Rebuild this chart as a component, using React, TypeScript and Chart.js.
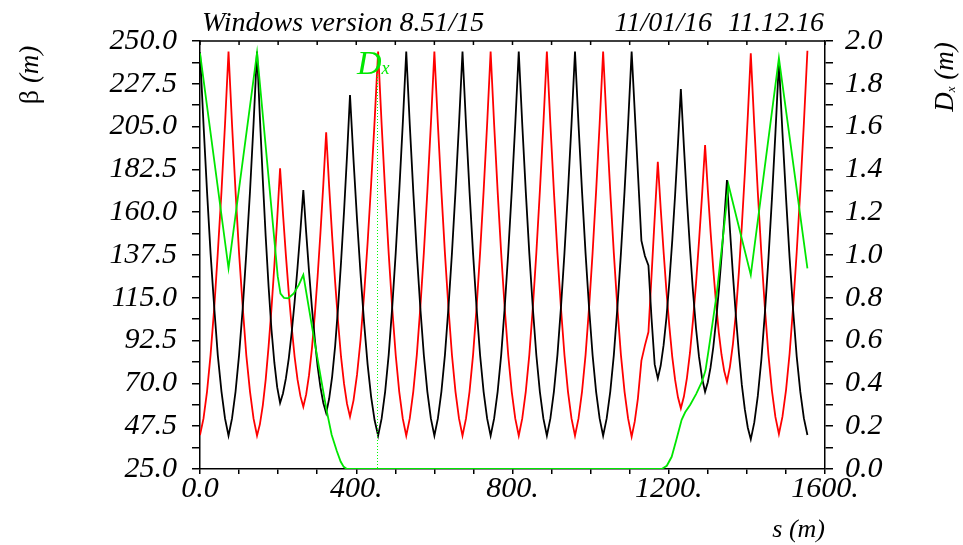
import React, { useEffect, useRef } from "react";
import { Chart, registerables } from "chart.js";

Chart.register(...registerables);

// ---------- data ----------
const S = [
  0, 9, 18, 27, 36.5, 45.5, 55, 64, 73,
  82, 91, 100, 109.5, 118.5, 128, 137, 146,
  153.4, 160.8, 168.1, 175.5, 182.9, 190.3, 197.6, 205,
  212.4, 219.9, 227.3, 234.8, 242.2, 249.6, 257.1, 264.5,
  271.8, 279.1, 286.4, 293.8, 301.1, 308.4, 315.7, 323,
  330.6, 338.3, 345.9, 353.5, 361.1, 368.8, 376.4, 384,
  393, 402, 411, 420, 429, 438, 447, 456,
  465, 474, 483, 492, 501, 510, 519, 528,
  537, 546, 555, 564, 573, 582, 591, 600,
  609, 618, 627, 636, 645, 654, 663, 672,
  681, 690, 699, 708, 717, 726, 735, 744,
  753, 762, 771, 780, 789, 798, 807, 816,
  825, 834, 843, 852, 861, 870, 879, 888,
  897, 906, 915, 924, 933, 942, 951, 960,
  969, 978, 987, 996, 1005, 1014, 1023, 1032,
  1041.1, 1050.3, 1059.4, 1068.5, 1077.6, 1086.8, 1095.9, 1105,
  1113, 1121, 1130, 1139, 1148, 1156, 1164, 1172,
  1179.4, 1186.8, 1194.1, 1201.5, 1208.9, 1216.3, 1223.6, 1231,
  1238.8, 1246.5, 1254.3, 1262, 1269.8, 1277.5, 1285.3, 1293,
  1300, 1307, 1314, 1321, 1328, 1335, 1342, 1349,
  1356.6, 1364.3, 1371.9, 1379.5, 1387.1, 1394.8, 1402.4, 1410,
  1419, 1428, 1437, 1446, 1455, 1464, 1473, 1482,
  1491.1, 1500.3, 1509.4, 1518.5, 1527.6, 1536.8, 1545.9, 1555,
];

const BETX = [
  244, 206.1, 170.8, 138.5, 109.8, 84.9, 65.7, 51.6, 42.5,
  51.6, 65.7, 84.9, 109.8, 138.5, 170.8, 206.1, 244.5,
  209.4, 177, 147.5, 121.2, 98.5, 81, 68, 59.7,
  64.7, 72.6, 83.2, 97, 112.9, 130.8, 150.4, 171.7,
  149.4, 128.9, 110.1, 93.5, 79, 67.9, 59.7, 54.4,
  61.9, 73.6, 89.5, 110.1, 133.8, 160.6, 189.8, 221.6,
  187.6, 156.2, 127.6, 102.1, 80.1, 63.1, 50.6, 42.5,
  51.6, 65.7, 84.9, 109.8, 138.5, 170.8, 206.1, 244.5,
  206.1, 170.8, 138.5, 109.8, 84.9, 65.7, 51.6, 42.5,
  51.6, 65.7, 84.9, 109.8, 138.5, 170.8, 206.1, 244.5,
  206.1, 170.8, 138.5, 109.8, 84.9, 65.7, 51.6, 42.5,
  51.6, 65.7, 84.9, 109.8, 138.5, 170.8, 206.1, 244.5,
  206.1, 170.8, 138.5, 109.8, 84.9, 65.7, 51.6, 42.5,
  51.6, 65.7, 84.9, 109.8, 138.5, 170.8, 206.1, 244.5,
  206.1, 170.8, 138.5, 109.8, 84.9, 65.7, 51.6, 42.5,
  51.6, 65.7, 84.9, 109.8, 138.5, 170.8, 206.1, 244.5,
  212.7, 181, 145, 137, 132, 104, 80, 72.6,
  79.4, 90.1, 104.6, 123.3, 144.9, 169.2, 195.9, 224.8,
  194.6, 166.7, 141.2, 118.6, 99, 83.9, 72.8, 65.6,
  70.6, 78.4, 89, 102.7, 118.5, 136.3, 155.8, 176.9,
  151, 127.2, 105.3, 86, 69.2, 56.3, 46.7, 40.6,
  49.5, 63.4, 82.3, 106.7, 134.8, 166.6, 201.3, 239,
  201.7, 167.4, 136, 108.2, 84.1, 65.5, 51.7, 42.9,
];

const BETY = [
  42.8, 51.6, 65.7, 84.9, 109.8, 138.5, 170.8, 206.1, 244.5,
  206.1, 170.8, 138.5, 109.8, 84.9, 65.7, 51.6, 42.5,
  48.6, 58.5, 71.9, 89.2, 109.2, 131.7, 156.3, 183.1,
  159.3, 137.3, 117.3, 99.5, 84, 72.1, 63.3, 57.7,
  64.2, 74.3, 88, 105.8, 126.2, 149.3, 174.6, 202,
  173.6, 147.4, 123.5, 102.3, 83.9, 69.7, 59.2, 52.5,
  61.1, 74.6, 92.8, 116.4, 143.7, 174.4, 208, 244.5,
  206.1, 170.8, 138.5, 109.8, 84.9, 65.7, 51.6, 42.5,
  51.6, 65.7, 84.9, 109.8, 138.5, 170.8, 206.1, 244.5,
  206.1, 170.8, 138.5, 109.8, 84.9, 65.7, 51.6, 42.5,
  51.6, 65.7, 84.9, 109.8, 138.5, 170.8, 206.1, 244.5,
  206.1, 170.8, 138.5, 109.8, 84.9, 65.7, 51.6, 42.5,
  51.6, 65.7, 84.9, 109.8, 138.5, 170.8, 206.1, 244.5,
  206.1, 170.8, 138.5, 109.8, 84.9, 65.7, 51.6, 42.5,
  51.6, 65.7, 84.9, 109.8, 138.5, 170.8, 206.1, 244.5,
  206.1, 170.8, 138.5, 109.8, 84.9, 65.7, 51.6, 42,
  50, 62, 82, 90, 97, 127, 157, 186.5,
  161.9, 139.2, 118.5, 100.1, 84.1, 71.8, 62.7, 56.9,
  63.1, 72.8, 86, 103, 122.6, 144.8, 169, 195.3,
  171.7, 149.9, 130, 112.3, 97, 85.2, 76.5, 70.9,
  78.7, 90.7, 107.1, 128.4, 152.9, 180.5, 210.7, 243.5,
  205.5, 170.5, 138.4, 110, 85.4, 66.4, 52.4, 43.4,
  52.5, 66.6, 85.7, 110.5, 139.1, 171.4, 206.6, 244.9,
];

const S_DX = [
  0, 73, 146, 199, 206, 215, 226, 240, 253, 264.5,
  290, 310, 324, 337, 350, 360, 368, 376,
  1182, 1195, 1207.5, 1220, 1233, 1242, 1255, 1270, 1285, 1294,
  1302, 1312, 1323, 1338, 1353, 1410, 1482, 1555,
];
const DX = [
  1.943, 0.938, 1.945, 0.9, 0.82, 0.8, 0.798, 0.82, 0.86, 0.907,
  0.63, 0.42, 0.275, 0.16, 0.085, 0.035, 0.01, 0,
  0, 0.015, 0.057, 0.14, 0.23, 0.265, 0.3, 0.35, 0.408, 0.46,
  0.556, 0.68, 0.821, 1.07, 1.327, 0.907, 1.92, 0.938,
];
const DX_MARK_S = 452;

const X_TICKS = [0, 100, 200, 300, 400, 500, 600, 700, 800, 900, 1000, 1100, 1200, 1300, 1400, 1500, 1600];
const X_TICK_LABELS = ["0.0", "", "", "", "400.", "", "", "", "800.", "", "", "", "1200.", "", "", "", "1600."];
const Y_TICKS = [25, 36.25, 47.5, 58.75, 70, 81.25, 92.5, 103.75, 115, 126.25, 137.5, 148.75, 160, 171.25, 182.5, 193.75, 205, 216.25, 227.5, 238.75, 250];
const Y_TICK_LABELS = ["25.0", "", "47.5", "", "70.0", "", "92.5", "", "115.0", "", "137.5", "", "160.0", "", "182.5", "", "205.0", "", "227.5", "", "250.0"];
const Y2_TICKS = [0, 0.1, 0.2, 0.3, 0.4, 0.5, 0.6, 0.7, 0.8, 0.9, 1.0, 1.1, 1.2, 1.3, 1.4, 1.5, 1.6, 1.7, 1.8, 1.9, 2.0];
const Y2_TICK_LABELS = ["0.0", "", "0.2", "", "0.4", "", "0.6", "", "0.8", "", "1.0", "", "1.2", "", "1.4", "", "1.6", "", "1.8", "", "2.0"];

const TITLE = "Windows version 8.51/15";
const DATE1 = "11/01/16";
const DATE2 = "11.12.16";

const FONT = "'Liberation Serif', 'Times New Roman', serif";
const GREEN = "rgb(0,230,0)";
const RED = "#ff0000";
const BLACK = "#000000";

const decor = {
  id: "decor",
  afterDraw(chart: any) {
    const { ctx, chartArea: a, scales } = chart;
    const xs = scales.x;
    ctx.save();
    // top frame with inward ticks
    ctx.strokeStyle = "#000";
    ctx.lineWidth = 1.5;
    ctx.beginPath();
    ctx.moveTo(a.left, a.top);
    ctx.lineTo(a.right, a.top);
    for (const v of X_TICKS) {
      const px = xs.getPixelForValue(v);
      ctx.moveTo(px, a.top);
      ctx.lineTo(px, a.top + 4);
    }
    ctx.stroke();

    // Dx marker (dotted vertical line)
    const mx = Math.round(xs.getPixelForValue(DX_MARK_S));
    ctx.fillStyle = "#00ff00";
    for (let y = Math.round(a.bottom) - 2; y > 72; y -= 3) {
      ctx.fillRect(mx, y, 1, 1);
    }

    ctx.fillStyle = "#00e800";
    ctx.textAlign = "left";
    ctx.textBaseline = "alphabetic";
    ctx.font = `italic 34px ${FONT}`;
    ctx.fillText("D", 357, 74);
    const dw = ctx.measureText("D").width;
    ctx.font = `italic 18px ${FONT}`;
    ctx.fillText("x", 357 + dw, 74);

    // header
    ctx.fillStyle = "#000";
    ctx.font = `italic 28px ${FONT}`;
    ctx.textAlign = "left";
    ctx.fillText(TITLE, 202, 31);
    ctx.textAlign = "right";
    ctx.fillText(DATE1, 712, 31);
    ctx.fillText(DATE2, 824, 31);

    // s (m)
    ctx.font = `italic 26px ${FONT}`;
    ctx.fillText("s (m)", 825, 537);

    // beta (m) rotated
    ctx.save();
    ctx.translate(31, 75);
    ctx.rotate(-Math.PI / 2);
    ctx.textBaseline = "middle";
    ctx.textAlign = "left";
    ctx.font = `28px ${FONT}`;
    const bw = ctx.measureText("β ").width;
    ctx.font = `italic 27px ${FONT}`;
    const mw = ctx.measureText("(m)").width;
    const tot = bw + mw;
    ctx.font = `28px ${FONT}`;
    ctx.fillText("β ", -tot / 2, 0);
    ctx.font = `italic 27px ${FONT}`;
    ctx.fillText("(m)", -tot / 2 + bw, 0);
    ctx.restore();

    // D (m) rotated
    ctx.save();
    ctx.translate(946, 77);
    ctx.rotate(-Math.PI / 2);
    ctx.textBaseline = "middle";
    ctx.textAlign = "left";
    ctx.font = `italic 27px ${FONT}`;
    const w1 = ctx.measureText("D").width;
    ctx.font = `italic 13px ${FONT}`;
    const w2 = ctx.measureText("x").width;
    ctx.font = `italic 27px ${FONT}`;
    const w3 = ctx.measureText(" (m)").width;
    const t2 = w1 + w2 + w3;
    ctx.fillText("D", -t2 / 2, 0);
    ctx.font = `italic 13px ${FONT}`;
    ctx.fillText("x", -t2 / 2 + w1, 6);
    ctx.font = `italic 27px ${FONT}`;
    ctx.fillText(" (m)", -t2 / 2 + w1 + w2, 0);
    ctx.restore();

    ctx.restore();
  },
};

const tickFont = { family: FONT, style: "italic" as const, size: 30, lineHeight: 1 };

export default function App() {
  const ref = useRef<HTMLCanvasElement | null>(null);
  useEffect(() => {
    const canvas = ref.current;
    if (!canvas) return;
    const chart = new Chart(canvas, {
      type: "line",
      data: {
        datasets: [
          {
            label: "Dx",
            data: S_DX.map((s, i) => ({ x: s, y: DX[i] })),
            borderColor: GREEN,
            borderWidth: 1.8,
            pointRadius: 0,
            tension: 0,
            yAxisID: "y2",
          },
          {
            label: "betx",
            data: S.map((s, i) => ({ x: s, y: BETX[i] })),
            borderColor: BLACK,
            borderWidth: 1.8,
            pointRadius: 0,
            tension: 0,
            yAxisID: "y",
          },
          {
            label: "bety",
            data: S.map((s, i) => ({ x: s, y: BETY[i] })),
            borderColor: RED,
            borderWidth: 1.8,
            pointRadius: 0,
            tension: 0,
            yAxisID: "y",
          },
        ],
      },
      options: {
        responsive: false,
        animation: false,
        devicePixelRatio: 1,
        events: [],
        layout: { padding: { top: 41, left: 0, right: 0, bottom: 0 } },
        plugins: { legend: { display: false }, tooltip: { enabled: false } },
        scales: {
          x: {
            type: "linear",
            position: "bottom",
            min: 0,
            max: 1600,
            afterBuildTicks: (s: any) => {
              s.ticks = X_TICKS.map((v) => ({ value: v }));
            },
            afterFit: (s: any) => {
              s.height = 76;
            },
            ticks: {
              autoSkip: false,
              maxRotation: 0,
              padding: 0,
              color: "#000",
              font: tickFont,
              callback: (_v: any, i: number) => X_TICK_LABELS[i],
            },
            grid: { drawOnChartArea: false, tickLength: 5, color: "#000", lineWidth: 1.5 },
            border: { color: "#000", width: 1.5 },
          },
          y: {
            type: "linear",
            position: "left",
            min: 25,
            max: 250,
            afterBuildTicks: (s: any) => {
              s.ticks = Y_TICKS.map((v) => ({ value: v }));
            },
            afterFit: (s: any) => {
              s.width = 200;
            },
            ticks: {
              autoSkip: false,
              padding: 15,
              color: "#000",
              font: tickFont,
              callback: (_v: any, i: number) => Y_TICK_LABELS[i],
            },
            grid: { drawOnChartArea: false, tickLength: 8, color: "#000", lineWidth: 1.5 },
            border: { color: "#000", width: 1.5 },
          },
          y2: {
            type: "linear",
            position: "right",
            min: 0,
            max: 2,
            afterBuildTicks: (s: any) => {
              s.ticks = Y2_TICKS.map((v) => ({ value: v }));
            },
            afterFit: (s: any) => {
              s.width = 138;
            },
            ticks: {
              autoSkip: false,
              padding: 12,
              color: "#000",
              font: tickFont,
              callback: (_v: any, i: number) => Y2_TICK_LABELS[i],
            },
            grid: { drawOnChartArea: false, tickLength: 8, color: "#000", lineWidth: 1.5 },
            border: { color: "#000", width: 1.5 },
          },
        },
      },
      plugins: [decor],
    });
    return () => chart.destroy();
  }, []);

  return (
    <div style={{ position: "fixed", left: 0, top: 0, width: 963, height: 545, background: "#fff" }}>
      <canvas ref={ref} width={963} height={545} style={{ display: "block", width: 963, height: 545 }} />
    </div>
  );
}
